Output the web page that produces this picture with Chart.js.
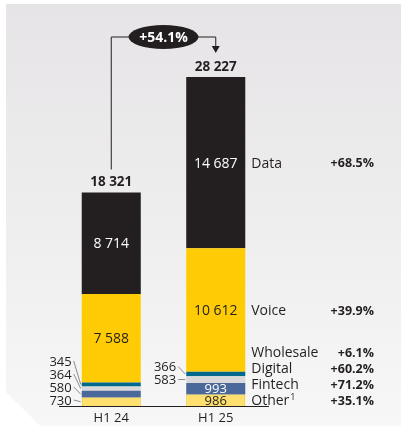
<!DOCTYPE html>
<html>
<head>
<meta charset="utf-8">
<script src="https://cdn.jsdelivr.net/npm/chart.js@4"></script>
<style>
  html, body { margin: 0; padding: 0; background: #fff; }
  #panel {
    position: absolute; left: 6px; top: 4px; width: 395px; height: 422px;
    background: linear-gradient(#e6e4e6, #f7f7f7);
    box-shadow: 0 -1px 2px rgba(0,0,0,.08);
    clip-path: polygon(0 0, 100% 0, 100% 100%, 34px 100%, 0 388px);
  }
  #wrap { position: absolute; left: 0; top: 0; width: 401px; height: 426px; }
</style>
</head>
<body>
<div id="panel"></div>
<div id="wrap"><canvas id="chart"></canvas></div>
<script>
// data, bottom segment first
const periods = ["H1 24", "H1 25"];
const segments = ["Other", "Fintech", "Digital", "Wholesale", "Voice", "Data"];
const other = [730, 986];
const fintech = [580, 993];
const digital = [364, 583];
const wholesale = [345, 366];
const voice = [7588, 10612];
const dataRev = [8714, 14687];
const growth = ["+35.1%", "+71.2%", "+60.2%", "+6.1%", "+39.9%", "+68.5%"];
const totalGrowth = "+54.1%";

const fills = ["#ffe06e", "#4a6899", "#d9d9db", "#00698c", "#ffcb05", "#231f20"];
const textColors = ["#231f20", "#fff", "#231f20", "#fff", "#231f20", "#fff"];
const dark = "#231f20";
const font = "'Open Sans', 'DejaVu Sans', sans-serif";

const series = [other, fintech, digital, wholesale, voice, dataRev];
const totals = periods.map((p, j) => series.reduce((s, arr) => s + arr[j], 0));

function fmt(n) {
  return String(n).replace(/\B(?=(\d{3})+(?!\d))/g, " ");
}

// value labels, totals, right side names and the growth arrow
const labelPlugin = {
  id: "labels",
  afterDatasetsDraw(chart) {
    const ctx = chart.ctx;
    const area = chart.chartArea;
    const metas = series.map((s, i) => chart.getDatasetMeta(i));
    ctx.save();
    ctx.textBaseline = "middle";

    periods.forEach((p, j) => {
      const outside = [];
      metas.forEach((m, i) => {
        const bar = m.data[j];
        const h = bar.base - bar.y;
        const cy = (bar.y + bar.base) / 2;
        const txt = fmt(series[i][j]);
        if (h >= 11) {
          ctx.font = (h >= 20 ? "14px " : "13px ") + font;
          ctx.fillStyle = textColors[i];
          ctx.textAlign = "center";
          ctx.fillText(txt, bar.x, cy + 1);
        } else {
          outside.push({ txt, cy, bar });
        }
      });
      // thin segments: label to the left of the bar, pushed apart
      let limit = area.bottom - 6;
      outside.forEach(o => {
        o.ly = Math.min(o.cy, limit);
        limit = o.ly - 13;
      });
      ctx.font = "13px " + font;
      outside.forEach(o => {
        const left = o.bar.x - o.bar.width / 2;
        ctx.strokeStyle = "#8c8c8c";
        ctx.lineWidth = 1;
        ctx.beginPath();
        ctx.moveTo(left - 8, o.ly);
        ctx.lineTo(left - 1, o.cy);
        ctx.stroke();
        ctx.fillStyle = dark;
        ctx.textAlign = "right";
        ctx.fillText(o.txt, left - 10, o.ly + 1);
      });

      // total above bar
      const top = metas[metas.length - 1].data[j];
      ctx.font = "bold 13.5px " + font;
      ctx.fillStyle = dark;
      ctx.textAlign = "center";
      ctx.fillText(fmt(totals[j]), top.x, top.y - 10);
    });

    // names and growth next to the last bar
    const last = periods.length - 1;
    let limit = area.bottom - 6;
    metas.forEach((m, i) => {
      const bar = m.data[last];
      const cy = Math.min((bar.y + bar.base) / 2, limit);
      limit = cy - 16;
      const x = bar.x + bar.width / 2 + 6;
      ctx.textAlign = "left";
      ctx.fillStyle = dark;
      ctx.font = "14px " + font;
      ctx.fillText(segments[i], x, cy + 1);
      if (i === 0) {
        const w = ctx.measureText(segments[i]).width;
        ctx.font = "9px " + font;
        ctx.fillText("1", x + w + 1, cy - 3);
      }
      ctx.font = "bold 12.5px " + font;
      ctx.textAlign = "right";
      ctx.fillText(growth[i], 374, cy + 1);
    });

    // growth connector between totals
    const b1 = metas[metas.length - 1].data[0];
    const b2 = metas[metas.length - 1].data[last];
    const yLine = area.top - 40;
    const tip = b2.y - 24;
    ctx.strokeStyle = dark;
    ctx.lineWidth = 1;
    ctx.beginPath();
    ctx.moveTo(b1.x, b1.y - 23);
    ctx.lineTo(b1.x, yLine);
    ctx.lineTo(b2.x, yLine);
    ctx.lineTo(b2.x, tip - 6);
    ctx.stroke();
    ctx.fillStyle = dark;
    ctx.beginPath();
    ctx.moveTo(b2.x - 4, tip - 7);
    ctx.lineTo(b2.x + 4, tip - 7);
    ctx.lineTo(b2.x, tip);
    ctx.closePath();
    ctx.fill();

    const cx = (b1.x + b2.x) / 2;
    ctx.beginPath();
    ctx.ellipse(cx, yLine, 35, 12, 0, 0, Math.PI * 2);
    ctx.fill();
    ctx.fillStyle = "#fff";
    ctx.font = "bold 14px " + font;
    ctx.textAlign = "center";
    ctx.fillText(totalGrowth, cx, yLine + 1);

    ctx.restore();
  }
};

new Chart(document.getElementById("chart"), {
  type: "bar",
  data: {
    labels: periods,
    datasets: series.map((arr, i) => ({
      label: segments[i],
      data: arr,
      backgroundColor: fills[i],
      borderColor: i === 0 ? "#f2c200" : fills[i],
      borderWidth: i === 0 ? 1 : 0,
      categoryPercentage: 1,
      barPercentage: 0.565,
    })),
  },
  options: {
    responsive: true,
    maintainAspectRatio: false,
    animation: false,
    layout: { padding: { left: 59, right: 133, top: 77, bottom: 0 } },
    plugins: { legend: { display: false }, tooltip: { enabled: false } },
    scales: {
      x: {
        stacked: true,
        grid: { display: false, drawTicks: false },
        border: { color: dark, width: 1 },
        ticks: { color: dark, font: { family: font, size: 13 }, padding: 4 },
        afterFit(scale) { scale.height = 20; },
      },
      y: {
        stacked: true,
        display: false,
        min: 0,
        max: Math.max(...totals),
      },
    },
  },
  plugins: [labelPlugin],
});
</script>
</body>
</html>
